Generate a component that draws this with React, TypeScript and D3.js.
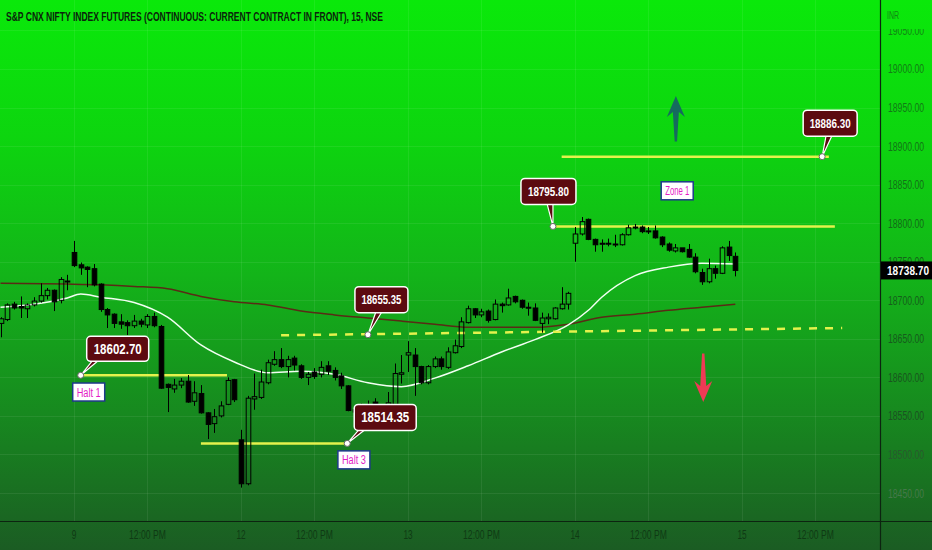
import React from 'react';
import * as d3 from 'd3';

const title = 'S&P CNX NIFTY INDEX FUTURES (CONTINUOUS: CURRENT CONTRACT IN FRONT), 15, NSE';

// 15 minute sessions, 25 bars each (9:15 .. 15:15); the 8th is only partly on screen
const sessionDays = ['8', '9', '12', '13', '14', '15'];
const barsPerSession = 25;
const firstVisibleBar = 14;

// [open, high, low, close]
const day8 = [
  [18670, 18678, 18652, 18676], [18675, 18696, 18673, 18694], [18695, 18698, 18688, 18690],
  [18692, 18705, 18677, 18690], [18689, 18696, 18677, 18694], [18694, 18704, 18692, 18699],
  [18699, 18722, 18697, 18706], [18706, 18716, 18701, 18713], [18713, 18714, 18686, 18698],
  [18700, 18730, 18696, 18727], [18725, 18733, 18713, 18724],
];
const day9 = [
  [18762, 18777, 18743, 18745], [18746, 18749, 18733, 18742], [18743, 18744, 18717, 18740],
  [18741, 18747, 18718, 18720], [18721, 18722, 18685, 18688], [18688, 18690, 18664, 18681],
  [18682, 18683, 18664, 18670], [18672, 18682, 18663, 18669], [18671, 18674, 18655, 18667],
  [18667, 18681, 18664, 18673], [18673, 18676, 18665, 18669], [18668, 18682, 18664, 18679],
  [18679, 18684, 18665, 18667], [18666, 18668, 18585, 18586], [18591, 18592, 18555, 18587],
  [18585, 18598, 18580, 18590], [18590, 18599, 18586, 18595], [18595, 18603, 18567, 18568],
  [18569, 18595, 18563, 18580], [18579, 18590, 18553, 18554], [18554, 18555, 18520, 18539],
  [18540, 18559, 18528, 18549], [18550, 18569, 18548, 18563], [18565, 18600, 18564, 18596],
  [18597, 18598, 18568, 18571],
];
const day12 = [
  [18519, 18532, 18457, 18462], [18462, 18576, 18460, 18573], [18572, 18605, 18558, 18575],
  [18574, 18610, 18572, 18594], [18593, 18623, 18591, 18619], [18617, 18634, 18615, 18623],
  [18623, 18638, 18612, 18614], [18614, 18628, 18600, 18623], [18625, 18628, 18609, 18616],
  [18615, 18617, 18598, 18600], [18600, 18607, 18590, 18604], [18607, 18612, 18598, 18601],
  [18604, 18621, 18600, 18613], [18615, 18621, 18603, 18608], [18609, 18613, 18596, 18600],
  [18602, 18606, 18585, 18589], [18589, 18590, 18556, 18557], [18558, 18562, 18547, 18555],
  [18557, 18566, 18548, 18561], [18560, 18570, 18545, 18556], [18568, 18573, 18540, 18555],
  [18555, 18565, 18546, 18560], [18560, 18581, 18557, 18567], [18565, 18618, 18564, 18605],
  [18604, 18629, 18592, 18606],
];
const day13 = [
  [18629, 18647, 18607, 18632], [18629, 18638, 18576, 18614], [18614, 18615, 18591, 18593],
  [18593, 18616, 18591, 18614], [18614, 18627, 18612, 18624], [18624, 18627, 18610, 18614],
  [18613, 18639, 18611, 18633], [18632, 18649, 18631, 18641], [18640, 18678, 18638, 18672],
  [18671, 18693, 18670, 18689], [18689, 18690, 18677, 18681], [18681, 18689, 18678, 18685],
  [18686, 18688, 18671, 18674], [18675, 18701, 18674, 18695], [18695, 18697, 18684, 18693],
  [18694, 18715, 18693, 18703], [18705, 18706, 18696, 18698], [18700, 18701, 18689, 18691],
  [18691, 18697, 18680, 18690], [18690, 18696, 18673, 18674], [18670, 18684, 18658, 18677],
  [18676, 18683, 18669, 18678], [18676, 18691, 18675, 18690], [18689, 18717, 18688, 18695],
  [18695, 18711, 18688, 18709],
];
const day14 = [
  [18774, 18795, 18750, 18786], [18786, 18808, 18784, 18802], [18805, 18806, 18778, 18779],
  [18779, 18780, 18763, 18772], [18774, 18779, 18763, 18773], [18773, 18780, 18770, 18774],
  [18773, 18785, 18769, 18772], [18772, 18787, 18771, 18785], [18785, 18798, 18784, 18794],
  [18795, 18799, 18792, 18795], [18795, 18797, 18787, 18789], [18789, 18795, 18786, 18790],
  [18790, 18797, 18780, 18781], [18782, 18783, 18769, 18772], [18773, 18775, 18763, 18765],
  [18764, 18773, 18762, 18768], [18768, 18768, 18762, 18763], [18766, 18773, 18755, 18756],
  [18756, 18761, 18735, 18737], [18736, 18741, 18720, 18724], [18724, 18754, 18722, 18741],
  [18741, 18745, 18728, 18735], [18735, 18770, 18734, 18768], [18769, 18777, 18751, 18758],
  [18757, 18762, 18731, 18738.7],
];
const sessions = [day8, day9, day12, day13, day14, []];

// moving averages, read at bar positions (bar 0 = first visible bar)
const fastMaBars = [0, 5, 10, 12, 15, 20, 25, 30, 35, 40, 45, 50, 55, 60, 65, 70, 75, 80, 85, 88, 90, 95, 100, 105, 110];
const fastMaValues = [18691, 18695, 18703, 18708, 18704, 18697, 18678, 18642, 18620, 18606, 18608, 18604, 18593, 18588, 18599, 18615, 18633, 18649, 18668, 18687, 18704, 18732, 18743, 18748, 18747];
const slowMaBars = [0, 10, 15, 20, 25, 30, 35, 40, 45, 50, 55, 60, 65, 70, 75, 80, 85, 90, 95, 100, 105, 110];
const slowMaValues = [18722, 18721, 18720, 18718, 18715, 18705, 18698, 18694, 18686, 18681, 18677, 18673, 18669, 18665, 18665, 18665, 18669, 18678, 18682, 18687, 18691, 18695];

// horizontal levels
const levelPrices = [18602.70, 18514.35, 18795.80, 18886.30];
const levelStart = [12, 30, 82.7, 84];
const levelEnd = [33.9, 51.9, 124.9, 124];
const levelAnchor = [12, 51.9, 82.7, 123];

// dashed trend line
const trendBars = [42, 126];
const trendPrices = [18654.6, 18664];
const trendAnchorBar = 55;
const trendAnchorPrice = 18655.35;

// text tags
const tagTexts = ['Halt 1', 'Halt 3', 'Zone 1'];
const tagBars = [13.2, 52.9, 101.3];
const tagPrices = [18581, 18493, 18842];

// arrows
const arrowBars = [101.1, 105.2];
const arrowTails = [18906, 18631];
const arrowTips = [18965, 18568];

const lastPrice = 18738.70;

const W = 932;
const H = 550;
const plotR = 880;
const plotB = 521;

// callout boxes (pixel offsets from anchor)
const calloutLayout = [
  { dx: 37, dy: -26.5, w: 62, h: 25, fs: 14, tl: 48, tx: 15 },
  { dx: 38, dy: -26, w: 62, h: 26, fs: 14, tl: 48, tx: 15 },
  { dx: -4.5, dy: -35, w: 55, h: 26, fs: 13, tl: 41, tx: -3 },
  { dx: 8, dy: -33.5, w: 54, h: 26, fs: 13, tl: 41, tx: 7 },
];

export default function App() {
  const x = d3.scaleLinear().domain([-0.08, 131.66]).range([0, plotR]);
  const y = d3.scaleLinear().domain([18413.7, 19089.5]).range([plotB, 0]);

  const bars = sessions.flatMap((s, si) =>
    s.map((c, i) => ({
      g: si * barsPerSession + (si === 0 ? firstVisibleBar + i : i) - firstVisibleBar,
      o: c[0], h: c[1], l: c[2], c: c[3],
    }))
  );

  const xTicks = sessionDays.slice(1).flatMap((d, i) => {
    const g = (i + 1) * barsPerSession - firstVisibleBar;
    return [{ g, label: d }, { g: g + 11, label: '12:00 PM' }];
  });
  const yTicks = d3.range(18450, 19051, 50);

  const line = d3.line<number[]>().x(d => x(d[0])).y(d => y(d[1])).curve(d3.curveMonotoneX);
  const fastPath = line(fastMaBars.map((b, i) => [b, fastMaValues[i]]));
  const slowPath = line(slowMaBars.map((b, i) => [b, slowMaValues[i]]));

  const bw = 4.6;
  const narrow = (s: string, per: number) => s.length * per;

  const callouts = levelPrices.map((p, i) => ({ ax: x(levelAnchor[i]), ay: y(p), text: p.toFixed(2), lay: calloutLayout[i] }));
  callouts.splice(2, 0, {
    ax: x(trendAnchorBar), ay: y(trendAnchorPrice), text: trendAnchorPrice.toFixed(2),
    lay: { dx: 13.5, dy: -35, w: 53, h: 26, fs: 13, tl: 40, tx: 11 },
  });

  // axis text: dark on the bright top, greyish-light on the dark bottom
  const axisText = d3.scaleLinear<string>()
    .domain([0, 300, 440, plotB])
    .range(['#118a14', '#14601a', '#1d4f22', '#5a8f5f']);

  return (
    <div style={{ position: 'absolute', left: 0, top: 0 }}>
      <svg width={W} height={H} style={{ display: 'block' }} fontFamily="'Liberation Sans', Arial, sans-serif">
        <defs>
          <linearGradient id="bg" x1="0" y1="0" x2="0" y2="1">
            <stop offset="0%" stopColor="#0ae90a" />
            <stop offset="25%" stopColor="#0dd50f" />
            <stop offset="50%" stopColor="#13b419" />
            <stop offset="75%" stopColor="#17891f" />
            <stop offset="100%" stopColor="#1b5c23" />
          </linearGradient>
          <clipPath id="ytop"><rect x={plotR} y={29} width={W - plotR} height={20} /></clipPath>
          <clipPath id="plot"><rect x={0} y={0} width={plotR} height={plotB} /></clipPath>
        </defs>
        <rect width={W} height={H} fill="url(#bg)" />

        {/* grid */}
        <g stroke="#ffffff" strokeOpacity={0.07}>
          {yTicks.map(t => <line key={t} x1={0} x2={plotR} y1={Math.round(y(t)) + 0.5} y2={Math.round(y(t)) + 0.5} />)}
          {xTicks.map(t => <line key={t.g} x1={Math.round(x(t.g)) + 0.5} x2={Math.round(x(t.g)) + 0.5} y1={0} y2={plotB} />)}
        </g>

        <g clipPath="url(#plot)">
          <path d={slowPath!} fill="none" stroke="#5a2b16" strokeWidth={1.5} />
          <path d={fastPath!} fill="none" stroke="#f2fff2" strokeWidth={1.5} />

          {levelPrices.map((p, i) => (
            <line key={p} x1={x(levelStart[i])} x2={x(levelEnd[i])} y1={y(p)} y2={y(p)}
              stroke="#e4f24c" strokeWidth={2.5} />
          ))}
          <line x1={x(trendBars[0])} x2={x(trendBars[1])} y1={y(trendPrices[0])} y2={y(trendPrices[1])}
            stroke="#e4f24c" strokeWidth={2.5} strokeDasharray="8 8" />

          {bars.map(b => {
            const cx = Math.round(x(b.g)) + 0.5;
            const up = b.c >= b.o;
            const top = y(Math.max(b.o, b.c));
            const bot = y(Math.min(b.o, b.c));
            const bh = Math.max(1, bot - top);
            return (
              <g key={b.g}>
                <line x1={cx} x2={cx} y1={y(b.h)} y2={top} stroke="#000" />
                <line x1={cx} x2={cx} y1={top + bh} y2={y(b.l)} stroke="#000" />
                <rect x={cx - bw / 2} y={top} width={bw} height={bh}
                  fill={up ? 'none' : '#000'} stroke="#000" strokeWidth={1} />
              </g>
            );
          })}
        </g>

        {/* arrows */}
        {arrowBars.map((g, i) => {
          const ax = x(g);
          const tailY = y(arrowTails[i]);
          const tipY = y(arrowTips[i]);
          const dir = tipY < tailY ? 1 : -1;
          const len = Math.abs(tailY - tipY);
          const d = `M0,0 L9,21 L3,16 L1.2,${len} L-1.2,${len} L-3,16 L-9,21 Z`;
          return (
            <path key={g} d={d} transform={`translate(${ax},${tipY}) scale(1,${dir})`}
              fill={i === 0 ? '#156b5e' : '#f03a55'} />
          );
        })}

        {/* tags */}
        {tagTexts.map((t, i) => {
          const cx = x(tagBars[i]);
          const cy = y(tagPrices[i]);
          return (
            <g key={t}>
              <rect x={cx - 16} y={cy - 9} width={32} height={18} fill="#ffffff" stroke="#1e3a8a" strokeWidth={1.5} />
              <text x={cx} y={cy + 4.5} textAnchor="middle" fontSize={12} fill="#e41cc6"
                textLength={24} lengthAdjust="spacingAndGlyphs">{t}</text>
            </g>
          );
        })}

        {/* callouts */}
        {callouts.map(c => {
          const { dx, dy, w, h, fs, tl, tx } = c.lay;
          const bx = c.ax + dx - w / 2;
          const by = c.ay + dy - h / 2;
          const baseX = c.ax + tx;
          return (
            <g key={c.text}>
              <path d={`M${baseX - 3},${by + h - 1} L${c.ax},${c.ay} L${baseX + 3},${by + h - 1}`}
                fill="#5c0a10" stroke="#ffffff" strokeWidth={1.2} />
              <rect x={bx} y={by} width={w} height={h} rx={4} fill="#5c0a10" stroke="#ffffff" strokeWidth={1.5} />
              <text x={bx + w / 2} y={by + h / 2 + fs * 0.36} textAnchor="middle" fontSize={fs} fontWeight="bold"
                fill="#ffffff" textLength={tl} lengthAdjust="spacingAndGlyphs">{c.text}</text>
              <circle cx={c.ax} cy={c.ay} r={3} fill="#ffffff" stroke="#666" strokeWidth={1} />
            </g>
          );
        })}

        {/* axes frame */}
        <line x1={0} x2={W} y1={plotB + 0.5} y2={plotB + 0.5} stroke="#0c2410" strokeWidth={1.2} />
        <line x1={plotR + 0.5} x2={plotR + 0.5} y1={0} y2={H} stroke="#0c2410" strokeWidth={1.2} />

        {/* y axis labels */}
        <text x={887} y={19} fontSize={10} fill={axisText(15)} textLength={12} lengthAdjust="spacingAndGlyphs">INR</text>
        {yTicks.map(t => (
          <text key={t} x={888} y={y(t) + 4.5} fontSize={12.5} fill={axisText(y(t))}
            clipPath={t === 19050 ? 'url(#ytop)' : undefined}
            textLength={narrow('18950.00', 4.5)} lengthAdjust="spacingAndGlyphs">{t.toFixed(2)}</text>
        ))}
        <rect x={plotR + 1} y={y(lastPrice) - 9} width={W - plotR - 1} height={18} fill="#000000" />
        <text x={887} y={y(lastPrice) + 4.5} fontSize={12.5} fontWeight="bold" fill="#ffffff"
          textLength={42} lengthAdjust="spacingAndGlyphs">{lastPrice.toFixed(2)}</text>

        {/* x axis labels */}
        {xTicks.map(t => (
          <text key={t.g} x={x(t.g)} y={539} textAnchor="middle" fontSize={12.5} fill="#0f3a14"
            textLength={narrow(t.label, 4.6)} lengthAdjust="spacingAndGlyphs">{t.label}</text>
        ))}

        {/* title */}
        <text x={6} y={21} fontSize={12.5} fontWeight="bold" fill="#0b240c"
          textLength={377} lengthAdjust="spacingAndGlyphs">{title}</text>
      </svg>
    </div>
  );
}
